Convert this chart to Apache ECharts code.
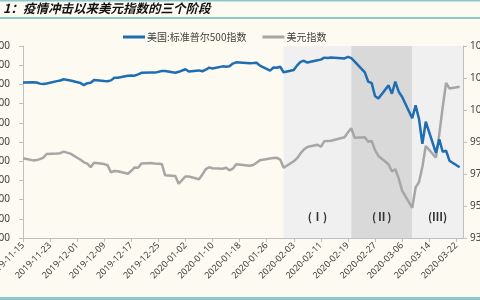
<!DOCTYPE html>
<html>
<head>
<meta charset="utf-8">
<script src="https://cdn.jsdelivr.net/npm/echarts@6/dist/echarts.min.js"></script>
<style>
html,body{margin:0;padding:0;background:#FDFAF1;}
#c{width:480px;height:300px;}
</style>
</head>
<body>
<div id="c"></div>
<script>
// trading days
var tradeDates = [
'2019-11-15','2019-11-18','2019-11-19','2019-11-20','2019-11-21','2019-11-22','2019-11-25','2019-11-26','2019-11-27','2019-11-29',
'2019-12-02','2019-12-03','2019-12-04','2019-12-05','2019-12-06','2019-12-09','2019-12-10','2019-12-11','2019-12-12','2019-12-13',
'2019-12-16','2019-12-17','2019-12-18','2019-12-19','2019-12-20','2019-12-23','2019-12-24','2019-12-26','2019-12-27','2019-12-30',
'2019-12-31','2020-01-02','2020-01-03','2020-01-06','2020-01-07','2020-01-08','2020-01-09','2020-01-10','2020-01-13','2020-01-14',
'2020-01-15','2020-01-16','2020-01-17','2020-01-21','2020-01-22','2020-01-23','2020-01-24','2020-01-27','2020-01-28','2020-01-29',
'2020-01-30','2020-01-31','2020-02-03','2020-02-04','2020-02-05','2020-02-06','2020-02-07','2020-02-10','2020-02-11','2020-02-12',
'2020-02-13','2020-02-14','2020-02-18','2020-02-19','2020-02-20','2020-02-21','2020-02-24','2020-02-25','2020-02-26','2020-02-27',
'2020-02-28','2020-03-02','2020-03-03','2020-03-04','2020-03-05','2020-03-06','2020-03-09','2020-03-10','2020-03-11','2020-03-12',
'2020-03-13','2020-03-16','2020-03-17','2020-03-18','2020-03-19','2020-03-20','2020-03-23'
];
// S&P 500 (left axis)
var spx = [
3120,3122,3120,3108,3104,3110,3134,3141,3154,3141,
3114,3093,3113,3117,3146,3136,3133,3142,3169,3169,
3191,3193,3191,3205,3221,3224,3223,3240,3240,3221,
3231,3258,3235,3246,3237,3253,3275,3265,3288,3283,
3289,3317,3330,3321,3322,3326,3295,3244,3276,3273,
3284,3226,3249,3298,3335,3346,3328,3352,3358,3379,
3374,3380,3370,3386,3373,3338,3226,3128,3116,2979,
2954,3090,3003,3130,3024,2972,2747,2882,2741,2481,
2711,2386,2529,2398,2409,2305,2237
];
// US dollar index (right axis)
var dxy = [
97.99,97.85,97.87,97.93,98.02,98.25,98.28,98.30,98.40,98.27,
97.89,97.73,97.65,97.43,97.70,97.62,97.55,97.10,97.19,97.17,
97.02,97.20,97.41,97.39,97.66,97.68,97.66,97.63,96.92,96.88,
96.39,96.85,96.84,96.67,96.97,97.30,97.42,97.36,97.33,97.39,
97.23,97.33,97.61,97.51,97.56,97.70,97.86,97.97,98.00,98.01,
97.90,97.39,97.80,97.99,98.29,98.53,98.69,98.83,98.70,99.04,
99.07,99.08,99.30,99.60,99.86,99.26,99.30,99.02,99.06,98.50,
98.13,97.61,97.16,97.30,96.73,95.96,94.89,96.16,96.49,97.45,
98.75,98.02,99.51,101.17,102.70,102.35,102.45
];
var leftTicks = {min:1500, max:3500, step:200};
var rightTicks = {min:93, max:105, step:2};
var axisStart = '2019-11-15', axisEnd = '2020-03-24';
var phases = [
  {name:'(Ⅰ)', from:'2020-01-31', to:'2020-02-20', color:'#F0F0F0'},
  {name:'(Ⅱ)', from:'2020-02-20', to:'2020-03-09', color:'#D9D9D9'},
  {name:'(Ⅲ)', from:'2020-03-09', to:'2020-03-24', color:'#F0F0F0'}
];
var titleText = '1：疫情冲击以来美元指数的三个阶段';
var nameSpx = '美国:标准普尔500指数', nameDxy = '美元指数';

// calendar-day categories
function fmt(d){var m=d.getUTCMonth()+1, dd=d.getUTCDate();return d.getUTCFullYear()+'-'+(m<10?'0':'')+m+'-'+(dd<10?'0':'')+dd;}
var cats=[]; for(var t=Date.parse(axisStart+'T00:00:00Z'); t<=Date.parse(axisEnd+'T00:00:00Z'); t+=86400000){cats.push(fmt(new Date(t)));}

var spxData = tradeDates.map(function(d,i){return [d, spx[i]];});
var dxyData = tradeDates.map(function(d,i){return [d, dxy[i]];});

var axisCol = '#BFBFBF', txtCol = '#404040';
var chart = echarts.init(document.getElementById('c'), null, {renderer:'canvas'});
chart.setOption({
  backgroundColor:'#FDFAF1',
  animation:false,
  graphic:[
    {type:'rect', shape:{x:0,y:0,width:480,height:1.5}, style:{fill:'#8CC9C9'}},
    {type:'rect', shape:{x:0,y:17,width:480,height:2}, style:{fill:'#8CC9C9'}},
    {type:'rect', shape:{x:0,y:297,width:480,height:3}, style:{fill:'#8CC9C9'}},
    {type:'text', left:3, top:2, style:{text:titleText, fill:'#111', font:'italic bold 12.5px "Noto Sans CJK SC"'}}
  ],
  legend:{
    data:[{name:nameSpx, icon:'rect'},{name:nameDxy, icon:'rect'}],
    left:118, top:27, itemWidth:22, itemHeight:3, itemGap:16,
    textStyle:{fontSize:10, color:txtCol, fontFamily:'"Noto Sans CJK SC"', padding:[0,0,0,-3]}
  },
  grid:{left:23, right:17, top:46, bottom:62, containLabel:false, outerBoundsMode:'none'},
  xAxis:{
    type:'category', data:cats, boundaryGap:false,
    axisLine:{lineStyle:{color:axisCol}},
    axisTick:{interval:7, length:4, lineStyle:{color:axisCol}},
    axisLabel:{interval:7, rotate:45, fontSize:9, color:txtCol, fontFamily:'"Noto Sans"', margin:6, hideOverlap:false},
    splitLine:{show:false}
  },
  yAxis:[
    {type:'value', min:leftTicks.min, max:leftTicks.max, interval:leftTicks.step,
     axisLine:{show:true, lineStyle:{color:axisCol}},
     axisTick:{show:true, length:4, lineStyle:{color:axisCol}},
     axisLabel:{fontSize:10, color:txtCol, margin:13, fontFamily:'"Noto Sans"'},
     splitLine:{show:false}},
    {type:'value', min:rightTicks.min, max:rightTicks.max, interval:rightTicks.step, position:'right',
     axisLine:{show:true, lineStyle:{color:axisCol}},
     axisTick:{show:true, length:4, lineStyle:{color:axisCol}},
     axisLabel:{fontSize:10, color:txtCol, margin:7, fontFamily:'"Noto Sans"'},
     splitLine:{show:false}}
  ],
  series:[
    {name:'phases', type:'line', data:[], z:1, silent:true,
     markArea:{silent:true,
       data: phases.map(function(p){return [
         {xAxis:p.from, name:p.name, itemStyle:{color:p.color},
          label:{show:true, position:'insideBottom', distance:16, color:'#333', fontSize:11, fontWeight:'bold', fontFamily:'"Noto Sans CJK SC"'}},
         {xAxis:p.to}];})
     }},
    {name:nameSpx, type:'line', data:spxData, yAxisIndex:0, showSymbol:false, z:3,
     lineStyle:{color:'#1F6DB3', width:2.5}, itemStyle:{color:'#1F6DB3'}},
    {name:nameDxy, type:'line', data:dxyData, yAxisIndex:1, showSymbol:false, z:2,
     lineStyle:{color:'#A6A6A6', width:2.5}, itemStyle:{color:'#A6A6A6'}}
  ]
});
</script>
</body>
</html>
